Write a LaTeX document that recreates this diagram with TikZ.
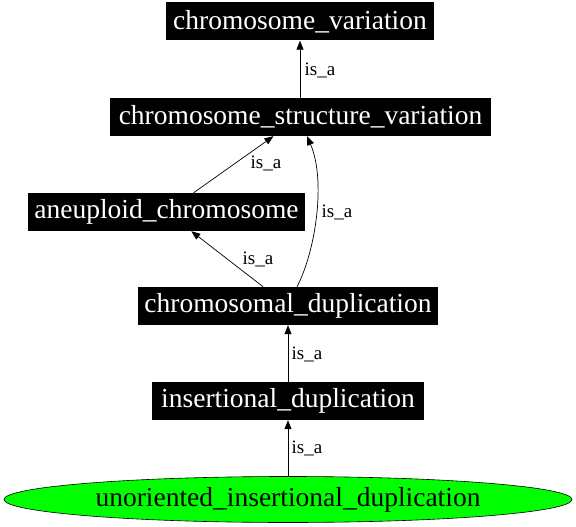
\documentclass[tikz,border=0pt]{standalone}
\usepackage{fontspec}
\setmainfont{Liberation Serif}
\usetikzlibrary{arrows.meta,shapes.geometric,calc}
\begin{document}
\begin{tikzpicture}[x=1pt,y=-1pt,
  term/.style={rectangle,fill=black,text=white,font=\fontsize{27.5}{30}\selectfont,minimum height=38pt,inner sep=0pt},
  leaf/.style={ellipse,draw=black,line width=0.6pt,fill={rgb,255:red,0;green,255;blue,0},font=\fontsize{27.5}{30}\selectfont,minimum width=568pt,minimum height=46pt,inner sep=0pt},
  isa/.style={draw=black,line width=0.7pt,-{Triangle[length=9pt,width=7pt]}},
  lbl/.style={font=\fontsize{19}{21}\selectfont,inner sep=0pt}]
\useasboundingbox (0,0) rectangle (576,527);
\node[term,minimum width=268pt] (cv) at (300,21.5) {chromosome\_variation};
\node[term,minimum width=381pt] (csv) at (300.5,117) {chromosome\_structure\_variation};
\node[term,minimum width=277pt] (an) at (166.5,212) {aneuploid\_chromosome};
\node[term,minimum width=300pt] (cd) at (288,306) {chromosomal\_duplication};
\node[term,minimum width=272pt] (id) at (288,401) {insertional\_duplication};
\node[leaf] (ui) at (288,499.5) {unoriented\_insertional\_duplication};
\draw[isa] (csv.north -| cv) -- (cv.south) node[lbl] at (320,70) {is\_a};
\draw[isa] (an) -- (csv) node[lbl] at (266,163) {is\_a};
\draw[isa] ($(cd.north)+(9,0)$) .. controls (316,250) and (326,180) .. ($(csv.south)+(6.5,0)$) node[lbl] at (337,212) {is\_a};
\draw[isa] (cd) -- (an) node[lbl] at (258,259) {is\_a};
\draw[isa] (id.north) -- (cd.south) node[lbl] at (307,354) {is\_a};
\draw[isa] (ui.north) -- (id.south) node[lbl] at (307,448) {is\_a};
\end{tikzpicture}
\end{document}
